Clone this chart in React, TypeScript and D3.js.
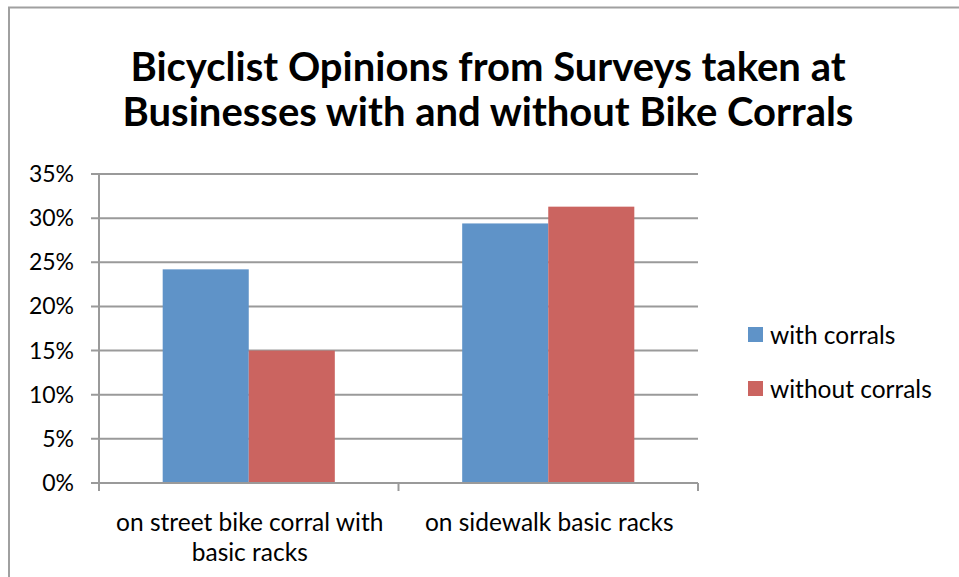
import React from 'react';
import * as d3 from 'd3';

const categories = ['on street bike corral with basic racks', 'on sidewalk basic racks'];
const categoryLines = [['on street bike corral with', 'basic racks'], ['on sidewalk basic racks']];
const seriesNames = ['with corrals', 'without corrals'];
const withCorrals = [0.242, 0.294];
const withoutCorrals = [0.150, 0.313];
const yTicks = [0, 0.05, 0.1, 0.15, 0.2, 0.25, 0.3, 0.35];
const colors = ['#5f93c8', '#cb6460'];

const W = 959;
const H = 577;
const font = 'Lato, Carlito, Calibri, sans-serif';

const App: React.FC = () => {
  const left = 99;
  const right = 698;
  const top = 174;
  const bottom = 483;

  const x = d3.scaleBand<string>().domain(categories).range([left, right]).paddingInner(0).paddingOuter(0);
  const inner = d3.scaleBand<string>().domain(seriesNames).range([0, x.bandwidth()]).paddingOuter(0.74).paddingInner(0);
  const y = d3.scaleLinear().domain([0, 0.35]).range([bottom, top]);
  const fmt = d3.format('.0%');
  const series = [withCorrals, withoutCorrals];

  return (
    <svg width={W} height={H} style={{ display: 'block', position: 'absolute', left: 0, top: 0 }}>
      <rect x={0} y={0} width={W} height={H} fill="#fff" />
      {/* chart border */}
      <rect x={9} y={7.5} width={W + 10} height={H + 10} fill="none" stroke="#a0a0a0" strokeWidth={2} />

      <text x={488} y={81} textAnchor="middle" fontFamily={font} fontWeight="bold" fontSize={40} fill="#000">
        Bicyclist Opinions from Surveys taken at
      </text>
      <text x={488} y={126} textAnchor="middle" fontFamily={font} fontWeight="bold" fontSize={40} fill="#000">
        Businesses with and without Bike Corrals
      </text>

      {/* gridlines and y ticks */}
      {yTicks.map((t) => (
        <g key={t}>
          <line x1={left - 8} x2={right} y1={y(t)} y2={y(t)} stroke="#9a9a9a" strokeWidth={2} />
          <text x={74} y={y(t) + 8} textAnchor="end" fontFamily={font} fontSize={23} fill="#000">
            {fmt(t)}
          </text>
        </g>
      ))}

      {/* y axis */}
      <line x1={left} x2={left} y1={top} y2={bottom + 8} stroke="#9a9a9a" strokeWidth={2} />

      {/* bars */}
      {categories.map((c, ci) =>
        seriesNames.map((s, si) => (
          <rect
            key={c + s}
            x={(x(c) ?? 0) + (inner(s) ?? 0)}
            y={y(series[si][ci])}
            width={inner.bandwidth()}
            height={bottom - y(series[si][ci])}
            fill={colors[si]}
          />
        ))
      )}

      {/* x axis */}
      <line x1={left - 8} x2={right} y1={bottom} y2={bottom} stroke="#9a9a9a" strokeWidth={2} />
      {[left, ...categories.map((c) => (x(c) ?? 0) + x.bandwidth())].map((px, i) => (
        <line key={i} x1={px} x2={px} y1={bottom} y2={bottom + 8} stroke="#9a9a9a" strokeWidth={2} />
      ))}
      {categories.map((c, ci) => (
        <text key={c} textAnchor="middle" fontFamily={font} fontSize={24.5} fill="#000">
          {categoryLines[ci].map((ln, li) => (
            <tspan key={li} x={(x(c) ?? 0) + x.bandwidth() / 2 + 1} y={531 + li * 30}>
              {ln}
            </tspan>
          ))}
        </text>
      ))}

      {/* legend */}
      {seriesNames.map((s, si) => (
        <g key={s} transform={`translate(748, ${327 + si * 54})`}>
          <rect x={0} y={0} width={15} height={15} fill={colors[si]} />
          <text x={22} y={17} fontFamily={font} fontSize={24.5} fill="#000">
            {s}
          </text>
        </g>
      ))}
    </svg>
  );
};

export default App;
